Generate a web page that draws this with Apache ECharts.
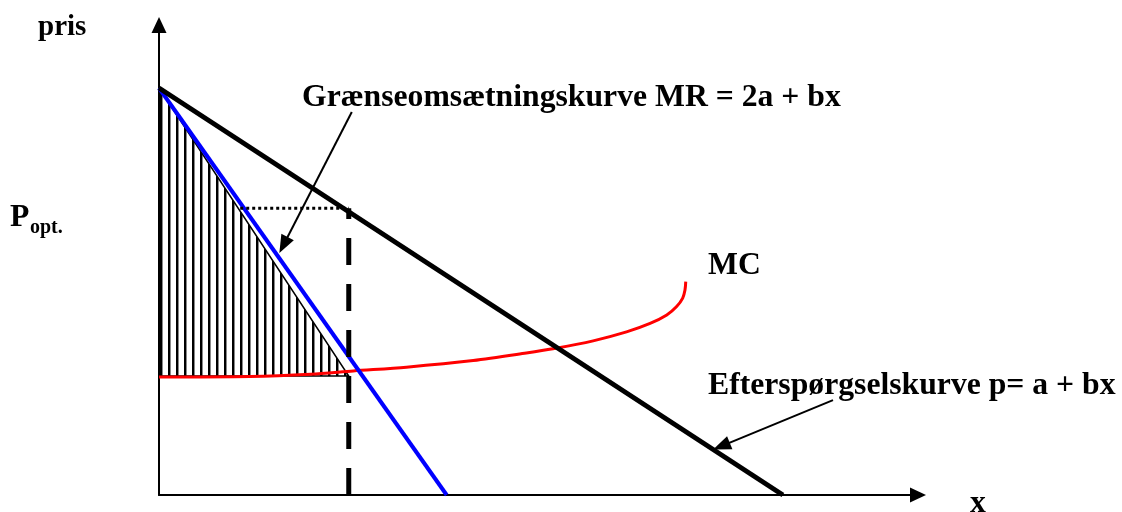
<!DOCTYPE html>
<html>
<head>
<meta charset="utf-8">
<title>Monopol - pris og mængde</title>
<script src="https://cdn.jsdelivr.net/npm/echarts@6/dist/echarts.min.js"></script>
<style>
    html, body { margin: 0; padding: 0; background: #fff; }
    #chart { width: 1122px; height: 512px; }
</style>
</head>
<body>
<div id="chart"></div>
<script>
    // værdier (akser 0..100)
    const demandLine = [[0, 86.6], [82.2, 0]];
    const mrLine = [[0, 86.6], [37.9, 0]];
    const mcCurve = [[0, 25.1], [12, 25.2], [20, 25.7], [25.6, 26.4], [32.6, 27.2], [41.4, 28.6],
                     [48.4, 30.2], [51.9, 31.1], [57.2, 32.8], [61.6, 34.7], [64.7, 36.5],
                     [66.9, 38.3], [68.2, 40.1], [69.0, 41.9], [69.3, 43.6], [69.4, 45.4]];
    const qOpt = 25;
    const pOpt = 61;
    const hatchTriangle = [[0, 86.6], [0, 25.3], [25, 25.3]];
    const qLine = [[qOpt, 0], [qOpt, pOpt]];
    const pLine = [[10.7, pOpt], [qOpt, pOpt]];
    const mrArrow = [[25.4, 81.5], [16.4, 53.2]];
    const demandArrow = [[88.8, 20.2], [74.1, 10.4]];

    // lodret skravering
    const hatch = document.createElement('canvas');
    hatch.width = 8;
    hatch.height = 4;
    const hctx = hatch.getContext('2d');
    hctx.fillStyle = '#000';
    hctx.fillRect(0, 0, 2, 4);
    hctx.fillStyle = '#888';
    hctx.fillRect(2, 0, 1, 4);

    const font = 'bold 31.7px "Liberation Serif", "Times New Roman", serif';

    let myChart = echarts.init(document.getElementById('chart'));
    let option = {
        animation: false,
        backgroundColor: '#fff',
        grid: { left: 159, right: 204, top: 25, bottom: 17 },
        xAxis: {
            type: 'value', min: 0, max: 100,
            splitLine: { show: false }, axisTick: { show: false }, axisLabel: { show: false },
            axisLine: { symbol: ['none', 'triangle'], symbolSize: [15, 16], lineStyle: { color: '#000', width: 2 } }
        },
        yAxis: {
            type: 'value', min: 0, max: 100,
            splitLine: { show: false }, axisTick: { show: false }, axisLabel: { show: false },
            axisLine: { symbol: ['none', 'triangle'], symbolSize: [15, 16], lineStyle: { color: '#000', width: 2 } }
        },
        series: [
            {
                type: 'custom',
                silent: true,
                renderItem: function (params, api) {
                    const pts = hatchTriangle.map(p => api.coord(p));
                    return {
                        type: 'polygon',
                        shape: { points: pts },
                        style: { fill: { image: hatch, repeat: 'repeat' }, stroke: '#000', lineWidth: 1.5 }
                    };
                },
                data: [0]
            },
            {
                type: 'line', data: mcCurve, smooth: 0.3, symbol: 'none',
                lineStyle: { color: '#ff0000', width: 3 }
            },
            {
                type: 'line', data: mrLine, symbol: 'none',
                lineStyle: { color: '#0000ff', width: 4 }
            },
            {
                type: 'line', data: demandLine, symbol: 'none',
                lineStyle: { color: '#000', width: 5 }
            },
            {
                type: 'line', data: qLine, symbol: 'none',
                lineStyle: { color: '#000', width: 5, type: [27, 19] }
            },
            {
                type: 'line', data: pLine, symbol: 'none',
                lineStyle: { color: '#000', width: 3, type: [3, 3] }
            },
            {
                type: 'line', data: [], symbol: 'none',
                markLine: {
                    silent: true,
                    symbol: ['none', 'triangle'],
                    symbolSize: [14, 18],
                    label: { show: false },
                    lineStyle: { color: '#000', width: 2, type: 'solid' },
                    data: [
                        [{ coord: mrArrow[0] }, { coord: mrArrow[1] }],
                        [{ coord: demandArrow[0] }, { coord: demandArrow[1] }]
                    ]
                }
            }
        ],
        graphic: [
            { type: 'text', style: { text: 'pris', x: 38, y: 42, font: 'bold 29px "Liberation Serif", serif', fill: '#000', textVerticalAlign: 'bottom' } },
            { type: 'text', style: { text: 'x', x: 970, y: 520, font: font, fill: '#000', textVerticalAlign: 'bottom' } },
            { type: 'text', style: { text: 'P', x: 10, y: 234, font: font, fill: '#000', textVerticalAlign: 'bottom' } },
            { type: 'text', style: { text: 'opt.', x: 30, y: 238, font: 'bold 20px "Liberation Serif", serif', fill: '#000', textVerticalAlign: 'bottom' } },
            { type: 'text', style: { text: 'MC', x: 708, y: 282, font: font, fill: '#000', textVerticalAlign: 'bottom' } },
            { type: 'text', style: { text: 'Grænseomsætningskurve MR = 2a + bx', x: 302, y: 114, font: font, fill: '#000', textVerticalAlign: 'bottom' } },
            { type: 'text', style: { text: 'Efterspørgselskurve p= a + bx', x: 708, y: 402, font: font, fill: '#000', textVerticalAlign: 'bottom' } }
        ]
    };
    myChart.setOption(option);
</script>
</body>
</html>
